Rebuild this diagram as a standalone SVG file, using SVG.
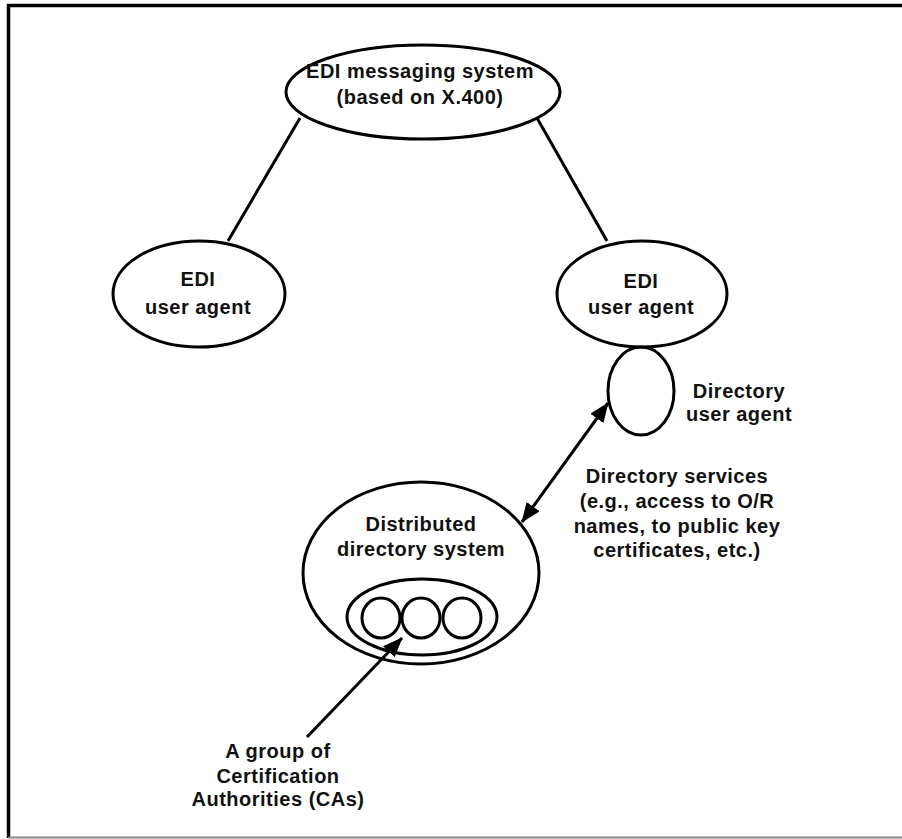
<svg xmlns="http://www.w3.org/2000/svg" width="902" height="839" viewBox="0 0 902 839">
<defs>
<style>
.n{fill:none;stroke:#000;stroke-width:3}
.t{font-family:"Liberation Sans",Arial,sans-serif;font-weight:bold;font-size:20px;letter-spacing:0.5px;fill:#111;text-anchor:middle}
.c{stroke:#000;stroke-width:3;fill:none}
</style>
<marker id="ah" viewBox="0 0 20 16" refX="19" refY="8" markerWidth="20" markerHeight="16" markerUnits="userSpaceOnUse" orient="auto-start-reverse">
<path d="M0,0 L20,8 L0,16 Z" fill="#000"/>
</marker>
</defs>
<rect width="902" height="839" fill="#fff"/>
<path d="M8.5,838 V5.5 H905" fill="none" stroke="#000" stroke-width="3.5"/>
<line x1="8" y1="837.5" x2="902" y2="837.5" stroke="#888" stroke-width="2"/>
<g id="connectors">
<line class="c" x1="300" y1="118" x2="228" y2="241"/>
<line class="c" x1="537" y1="118" x2="607" y2="241"/>
<line class="c" x1="522" y1="522" x2="608" y2="403" marker-start="url(#ah)" marker-end="url(#ah)"/>
<line class="c" x1="307" y1="737" x2="402" y2="638" marker-end="url(#ah)"/>
</g>
<g id="edi-messaging">
<ellipse class="n" cx="423" cy="92" rx="137" ry="47"/>
<text class="t" x="420" y="78">EDI messaging system</text>
<text class="t" x="420" y="104">(based on X.400)</text>
</g>
<g id="edi-ua-left">
<ellipse class="n" cx="199" cy="294" rx="86" ry="53"/>
<text class="t" x="198" y="286">EDI</text>
<text class="t" x="198" y="314">user agent</text>
</g>
<g id="edi-ua-right">
<ellipse class="n" cx="642" cy="294" rx="85" ry="53"/>
<text class="t" x="641" y="288">EDI</text>
<text class="t" x="641" y="314">user agent</text>
</g>
<g id="directory-ua">
<ellipse class="n" cx="641" cy="391" rx="33" ry="44"/>
<text class="t" x="739" y="398">Directory</text>
<text class="t" x="739" y="421">user agent</text>
</g>
<g id="directory-services-label">
<text class="t" x="677" y="483">Directory services</text>
<text class="t" x="677" y="508">(e.g., access to O/R</text>
<text class="t" x="677" y="533">names, to public key</text>
<text class="t" x="677" y="557">certificates, etc.)</text>
</g>
<g id="distributed-directory">
<ellipse class="n" cx="421" cy="573" rx="118" ry="91"/>
<text class="t" x="421" y="531">Distributed</text>
<text class="t" x="421" y="556">directory system</text>
</g>
<g id="ca-group">
<ellipse class="n" cx="422" cy="617" rx="75" ry="38"/>
<ellipse class="n" cx="381" cy="618" rx="19" ry="20"/>
<ellipse class="n" cx="421" cy="618" rx="19" ry="20"/>
<ellipse class="n" cx="462" cy="618" rx="19" ry="20"/>
</g>
<g id="ca-label">
<text class="t" x="278" y="758">A group of</text>
<text class="t" x="278" y="783">Certification</text>
<text class="t" x="278" y="806">Authorities (CAs)</text>
</g>
</svg>
